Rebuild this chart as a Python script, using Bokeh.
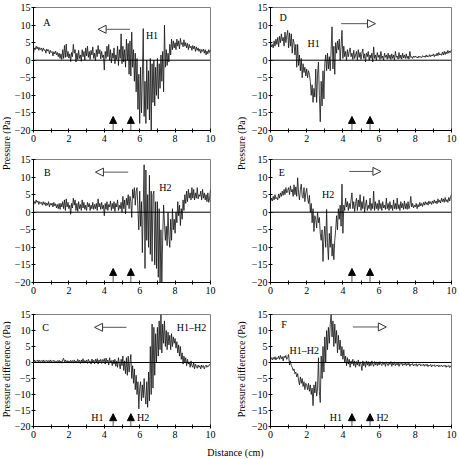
from math import pi

import numpy as np
from bokeh.embed import file_html
from bokeh.layouts import column, row
from bokeh.models import (Arrow, CustomJSTickFormatter, FixedTicker, Label,
                          NormalHead, Range1d, Span)
from bokeh.plotting import figure
from bokeh.resources import INLINE

FONT = "Liberation Serif"

# sampling positions along the tube (cm), 0.05 cm apart
distance = np.round(np.arange(201) * 0.05, 2)

# H1 pressure, wave travelling leftward (panel A)
pressure_h1_leftward = [
    2.0, 3.5, 3.0, 4.0, 3.2, 3.8, 2.8, 3.6, 3.0, 3.4,
    2.5, 3.5, 2.8, 3.0, 2.0, 3.2, 2.6, 3.0, 1.8, 2.8,
    2.2, 2.5, 1.2, 2.4, 1.8, 2.6, 1.5, 2.2, 1.0, 2.0,
    0.5, 1.8, 0.2, 3.0, 0.5, 4.2, 0.8, 4.6, 1.0, 2.5,
    0.6, 1.8, -0.4, 2.2, 1.0, 4.5, 2.0, 3.0, -0.5, 2.0,
    0.2, 2.8, 0.5, 1.5, -0.3, 3.0, 1.0, 2.5, 0.0, 3.5,
    1.2, 4.0, 0.8, 2.5, 0.2, 2.8, 1.5, 3.8, 0.5, 2.0,
    -0.2, 3.0, 1.0, 4.2, 1.8, 3.0, 0.4, 2.5, 0.8, 1.5,
    -2.8, 2.5, 0.5, 4.0, 1.0, 4.5, 0.0, 3.0, -0.8, 2.0,
    0.5, 3.5, -1.0, 1.5, 0.2, 4.0, -1.5, 3.0, 0.5, 7.5,
    -1.0, 4.0, -0.5, 3.0, -2.0, 6.0, 0.0, 4.8, -4.0, 5.5,
    -4.5, 8.0, -2.0, 3.0, -6.0, 2.0, -9.0, 0.5, -14.0, -4.0,
    -18.0, -2.0, -15.0, -5.0, 9.0, -16.0, -6.0, -18.0, 0.0, -14.0,
    -3.0, -17.0, 0.5, -20.0, -1.0, -12.0, 0.0, -13.0, -2.0, -10.0,
    0.5, -11.0, -1.0, -8.0, 1.5, -6.0, 2.5, -9.0, 10.0, -2.0,
    3.0, -1.5, 2.0, -0.5, 4.5, 1.5, 6.0, 3.0, 5.5, 3.5,
    5.0, 3.0, 6.0, 4.0, 5.5, 3.2, 6.2, 4.5, 5.0, 3.8,
    5.8, 4.0, 5.0, 3.5, 4.8, 3.0, 4.5, 3.5, 4.0, 2.8,
    4.2, 3.2, 4.0, 2.5, 3.8, 2.8, 3.5, 2.5, 3.2, 2.0,
    3.0, 2.5, 3.2, 2.0, 3.0, 1.5, 2.6, 1.8, 3.0, 2.2,
    3.0,
]

# H2 pressure, wave travelling leftward (panel B)
pressure_h2_leftward = [
    2.0, 3.0, 2.5, 3.5, 2.8, 3.2, 2.2, 3.0, 2.5, 2.8,
    2.0, 3.0, 2.2, 2.8, 1.8, 2.6, 2.0, 3.0, 1.5, 2.5,
    2.0, 2.6, 1.5, 2.8, 1.8, 2.4, 1.2, 2.2, 1.0, 2.5,
    0.8, 2.5, 1.5, 3.0, 1.0, 3.5, 0.5, 3.8, 1.5, 2.8,
    1.0, 2.0, -0.6, 2.5, 1.2, 4.0, 2.0, 3.5, 0.5, 2.5,
    0.2, 3.0, 1.0, 2.2, 0.5, 3.5, 1.2, 2.8, 0.8, 2.0,
    0.5, 2.8, 1.5, 2.5, 0.5, 2.0, 1.0, 2.8, 0.8, 2.2,
    1.0, 2.5, 0.5, 3.8, 1.5, 2.5, 0.8, 2.8, 1.0, 2.0,
    -1.0, 2.5, 0.8, 3.0, 0.5, 2.2, 1.5, 3.2, 0.5, 2.5,
    1.0, 3.0, 0.2, 2.5, 1.5, 3.5, 0.5, 2.0, 1.0, 2.8,
    0.0, 4.5, 1.0, 3.5, -0.5, 4.0, 2.0, 5.0, 1.0, 4.5,
    3.0, -1.5, 6.5, 4.0, 7.0, 2.0, 6.0, 7.0, 0.5, -5.0,
    6.0, -4.0, 3.0, -11.5, 2.0, 13.5, -16.0, 12.0, -8.0, 5.0,
    -10.0, 10.5, -12.0, 6.0, -14.0, 5.0, 6.0, -15.0, 3.0, -16.0,
    3.0, -18.5, 1.0, -20.0, -5.0, -20.0, -7.0, 2.0, -3.0, -8.0,
    -4.0, -9.5, 0.0, -7.0, -10.0, -2.0, -8.0, 1.0, -5.0, -2.0,
    -6.0, 0.0, -3.0, 3.0, -1.0, 2.0, -3.8, 1.0, -2.0, 3.5,
    0.5, 5.0, 2.5, 6.0, 3.0, 6.5, 4.0, 5.5, 3.5, 7.0,
    4.0, 6.5, 3.5, 5.5, 4.0, 7.0, 3.8, 5.0, 4.5, 6.0,
    3.5, 6.5, 4.0, 5.5, 3.5, 5.0, 3.0, 5.5, 2.8, 4.0,
    6.5,
]

# H1 - H2 pressure difference, wave travelling leftward (panel C)
difference_leftward = [
    0.0, 0.8, 0.2, 0.6, 0.3, 0.8, 0.1, 0.7, 0.3, 0.6,
    0.2, 0.8, 0.0, 0.6, 0.3, 0.7, 0.1, 0.6, 0.2, 0.8,
    0.1, 0.6, 0.3, 0.7, 0.0, 0.5, 0.2, 0.6, 0.1, 0.7,
    0.0, 0.5, -0.2, 0.8, 1.3, 0.2, 0.8, 0.0, 0.6, -0.1,
    0.5, 0.0, 0.7, 0.2, 0.6, -0.2, 0.8, 0.1, 0.5, 0.0,
    1.0, 0.2, 0.7, -0.3, 0.8, 0.1, 1.2, -0.2, 0.6, 0.1,
    0.8, -0.3, 1.0, 0.2, 0.5, -0.5, 1.1, 0.0, 0.7, -0.4,
    1.0, 0.1, 1.2, -0.5, 0.8, 0.2, 1.0, -0.3, 0.9, 0.3,
    1.2, -0.5, 1.4, 0.2, 0.8, -0.8, 1.5, 0.0, 0.6, -1.0,
    0.8, -0.5, 1.0, -1.2, 0.5, -1.5, 1.5, -0.5, -2.0, 1.0,
    -1.0, 2.0, -2.5, 0.5, -3.5, 1.5, -4.0, 2.0, -3.0, 0.0,
    2.5, -5.0, -1.0, -6.5, -2.0, -8.5, -4.0, -10.0, -6.0, -14.5,
    -8.0, -6.0, -12.0, -7.0, -11.0, -5.0, -10.0, -13.0, -6.0, -14.0,
    -3.0, -12.0, 5.0, -10.0, 12.0, -8.0, 11.0, -4.0, 9.0, 0.0,
    11.0, 2.0, 13.0, 4.0, 15.0, 3.0, 12.0, 6.0, 13.0, 5.0,
    10.0, 4.0, 9.5, 5.5, 8.5, 4.0, 9.0, 5.0, 8.0, 6.0,
    7.5, 4.5, 6.5, 3.0, 5.5, 2.0, 5.0, 1.0, 3.0, -0.5,
    2.0, 0.0, 1.5, -1.0, 1.0, -0.5, 0.2, -1.5, 0.5, -1.0,
    -1.5, 0.0, -2.0, -0.5, -1.2, -1.8, -0.8, -1.5, -1.0, -2.0,
    -0.8, -1.5, -1.0, -2.0, -1.2, -0.8, -1.5, -1.0, -1.2, -0.6,
    -0.5,
]

# H1 pressure, wave travelling rightward (panel D)
pressure_h1_rightward = [
    5.0, 3.8, 4.5, 3.5, 5.5, 4.0, 6.0, 4.5, 6.5, 3.8,
    6.8, 5.0, 7.5, 5.5, 6.5, 4.0, 8.0, 5.0, 7.0, 8.5,
    3.5, 7.8, 4.0, 7.5, 2.0, 6.0, 5.0, 1.5, 4.5, -2.0,
    4.5, -1.5, 1.5, -3.0, 0.5, -5.0, -1.0, -3.5, -2.0, -4.5,
    -2.5, -5.0, -3.0, -4.0, -6.0, -10.0, -7.0, -12.0, -8.0, -10.5,
    -2.5, -12.0, -4.0, -0.5, -10.0, -17.5, -6.0, -13.0, -3.0, -11.0,
    -1.0, 1.5, -3.0, 2.0, -2.5, 1.0, -3.0, 3.0, 9.5, -2.5,
    4.0, -4.0, 5.0, 2.0, 5.5, 3.0, 6.0, 0.0, 4.0, 8.5,
    0.5, 4.0, 1.0, 2.5, 0.0, 3.0, 1.0, 2.5, 3.5, 1.0,
    2.0, 0.2, 2.8, 0.5, 1.5, 2.5, 0.0, 3.0, 0.8, 2.2,
    0.2, 2.0, 3.2, 0.5, 1.8, -0.5, 2.0, 1.0, 2.5, 0.0,
    1.5, 0.5, 2.0, -0.5, 3.8, 0.5, 1.5, 0.0, 2.2, 0.8,
    1.5, 0.2, 2.5, 0.5, 1.2, 0.0, 2.0, 0.8, 1.5, 0.3,
    2.0, 0.5, 1.5, 0.2, 1.8, 0.5, 1.5, 0.0, 2.5, 0.8,
    1.2, 0.3, 2.2, 0.5, 1.5, 0.3, 2.0, 0.6, 1.5, 0.5,
    1.8, 0.5, 1.2, 0.3, 2.5, 0.8, 1.0, 0.5, 1.2, 0.8,
    1.2, 0.8, 1.0, 0.6, 1.2, 0.8, 1.0, 0.7, 1.3, 0.9,
    1.2, 0.8, 1.5, 0.9, 1.3, 1.0, 1.6, 1.0, 1.5, 1.2,
    1.8, 1.0, 1.6, 1.2, 2.0, 1.3, 2.2, 1.5, 1.8, 1.4,
    2.3, 1.5, 2.5, 1.6, 2.4, 1.8, 2.8, 2.0, 2.6, 2.2,
    3.0,
]

# H2 pressure, wave travelling rightward (panel E)
pressure_h2_rightward = [
    3.0, 4.0, 3.2, 4.5, 3.5, 5.0, 3.8, 4.2, 3.5, 5.2,
    4.0, 5.5, 4.5, 6.0, 4.8, 6.5, 5.0, 7.0, 5.5, 6.2,
    7.0, 5.0, 7.5, 5.8, 6.5, 4.5, 7.8, 5.0, 7.2, 4.5,
    9.8, 5.5, 3.5, 6.5, 8.0, 4.5, 4.0, 7.0, 3.0, 5.5,
    6.8, 4.0, 2.5, 4.8, 0.0, 2.5, -3.0, 1.0, -5.5, -1.0,
    -2.0, -4.5, 0.0, -3.0, -1.5, -6.0, -8.0, -5.0, -14.0, -7.0,
    -4.0, -10.0, 0.8, -9.0, -13.5, -6.0, -10.0, -4.0, -12.5, -9.0,
    -13.5, -8.0, -5.0, -1.0, -5.0, 1.0, -2.0, 2.0, -4.0, 8.0,
    -6.0, 2.0, 0.5, 4.0, 1.5, 3.0, 0.5, 2.5, 1.0, 3.5,
    5.5, 1.0, 3.0, 0.2, 2.5, 4.0, 0.5, 3.5, 1.5, 5.0,
    0.5, 3.0, 1.0, 4.5, 0.0, 2.0, 3.5, 0.5, 2.0, 1.0,
    4.0, 0.5, 2.5, 1.0, 6.0, 0.5, 3.0, 1.0, 2.5, 0.5,
    3.5, 1.0, 2.5, 0.5, 3.0, 1.2, 2.0, 0.8, 4.0, 1.0,
    2.5, 0.5, 3.0, 1.0, 2.0, 0.5, 3.5, 1.0, 2.5, 0.8,
    4.0, 1.0, 2.2, 0.5, 3.0, 1.2, 2.5, 0.8, 3.2, 1.0,
    2.5, 0.8, 3.0, 1.0, 2.0, 4.5, 1.5, 2.5, 1.2, 2.0,
    1.5, 2.5, 1.0, 2.2, 1.5, 2.8, 1.8, 2.5, 1.6, 2.8,
    2.0, 3.0, 2.2, 2.8, 2.0, 3.2, 2.4, 3.0, 2.2, 3.2,
    2.5, 3.5, 2.6, 3.2, 2.4, 3.8, 2.8, 3.4, 2.6, 4.0,
    3.0, 3.8, 2.8, 4.2, 3.0, 3.6, 2.8, 4.2, 3.2, 4.5,
    5.0,
]

# H1 - H2 pressure difference, wave travelling rightward (panel F)
difference_rightward = [
    1.0, 1.5, 0.8, 1.6, 1.0, 1.8, 0.8, 1.5, 1.2, 2.0,
    1.0, 2.2, 1.2, 1.8, 0.5, 2.0, 1.5, 2.2, 1.0, 1.5,
    2.5, -0.8, 0.5, -1.0, -1.5, -2.5, -2.0, -3.5, -3.0, -4.5,
    -3.5, -5.5, -7.0, -4.5, -6.5, -5.0, -7.5, -6.0, -8.5, -6.5,
    -7.0, -8.5, -6.5, -9.0, -7.0, -10.0, -8.0, -13.5, -7.0, -9.5,
    -6.0, -10.5, -8.0, 1.5, -9.0, -12.5, 2.0, -5.0, 5.0, -3.0,
    8.0, 0.0, 10.0, 4.0, 11.0, 6.0, 12.0, 15.0, 8.0, 13.0,
    5.0, 12.0, 6.0, 10.0, 3.0, 8.5, 4.0, 7.0, 2.0, 5.0,
    1.0, 4.0, 0.0, 2.0, -1.0, 1.5, -0.5, 1.0, -1.5, 0.5,
    -0.5, 1.0, -1.0, 0.5, -1.5, 0.3, -0.8, 0.8, -1.2, 0.2,
    -0.5, -2.5, 0.5, -1.0, 0.2, -1.5, 0.5, -0.8, 0.3, -1.2,
    0.2, -1.0, 0.5, -0.5, -1.2, 0.3, -0.8, 0.2, -1.0, 0.0,
    -0.8, 0.3, -0.5, -1.0, 0.2, -0.6, 0.0, -1.2, 0.2, -0.5,
    -1.0, 0.0, -0.6, 0.3, -1.2, -0.2, -0.8, 0.2, -1.0, -0.3,
    -0.8, 0.0, -1.2, -0.3, -0.6, 0.1, -1.0, -0.4, -0.8, 0.0,
    -1.0, -0.3, -0.8, -0.2, -1.2, -0.5, -0.8, -0.3, -1.1, -0.6,
    -0.9, -0.4, -1.2, -0.6, -0.8, -0.4, -1.1, -0.7, -0.9, -0.5,
    -1.2, -0.6, -1.0, -0.5, -1.3, -0.8, -1.0, -0.6, -1.4, -0.8,
    -1.0, -0.7, -1.3, -0.9, -1.1, -0.8, -1.4, -0.9, -1.2, -0.8,
    -1.3, -1.0, -1.2, -0.8, -1.5, -1.0, -1.3, -0.9, -1.6, -1.1,
    -1.0,
]

x_ticks = [0, 2, 4, 6, 8, 10]
x_minor_ticks = [1, 3, 5, 7, 9]
y_ticks = [-20, -15, -10, -5, 0, 5, 10, 15]

# positions of the two pressure ports H1 and H2 (cm)
sensor_x = [4.5, 5.5]

minus_formatter = CustomJSTickFormatter(
    code="return tick < 0 ? '\u2212' + Math.abs(tick) : String(tick);")


def add_text(p, x, y, text, align="left"):
    p.add_layout(Label(x=x, y=y, text=text, text_align=align,
                       text_baseline="middle", text_font=FONT,
                       text_font_size="10px", text_color="black"))


def make_panel(values, width, height, left, right, top, bottom,
               letter, letter_pos, tags, heading, port_tags=False):
    p = figure(width=width, height=height,
               x_range=Range1d(0, 10), y_range=Range1d(-20, 15),
               min_border_left=left, min_border_right=right,
               min_border_top=top, min_border_bottom=bottom,
               toolbar_location=None, output_backend="svg")
    p.grid.visible = False
    p.background_fill_color = "white"
    p.border_fill_color = "white"
    p.outline_line_color = "#808080"
    p.outline_line_width = 1

    p.xaxis.ticker = FixedTicker(ticks=x_ticks, minor_ticks=x_minor_ticks)
    p.yaxis.ticker = FixedTicker(ticks=y_ticks)
    p.yaxis.formatter = minus_formatter
    for ax in p.axis:
        ax.axis_line_color = "black"
        ax.major_tick_line_color = "black"
        ax.minor_tick_line_color = "black"
        ax.major_tick_in = 2
        ax.major_tick_out = 2
        ax.minor_tick_in = 2
        ax.minor_tick_out = 2
        ax.major_label_standoff = 2
        ax.major_label_text_font = FONT
        ax.major_label_text_font_size = "10px"
        ax.major_label_text_color = "black"
    p.yaxis.major_label_standoff = 1

    p.add_layout(Span(location=0, dimension="width",
                      line_color="black", line_width=1))
    p.line(distance, values, line_color="#111111", line_width=0.8)

    # direction of wave travel
    x0, x1, yh = heading
    p.add_layout(Arrow(end=NormalHead(size=8, fill_color="white",
                                      line_color="#333333", line_width=1),
                       x_start=x0, y_start=yh, x_end=x1, y_end=yh,
                       line_color="#555555", line_width=1))

    # pressure ports
    for sx in sensor_x:
        p.add_layout(Arrow(end=NormalHead(size=7, fill_color="black",
                                          line_color="black", line_width=1),
                           x_start=sx, y_start=-20, x_end=sx, y_end=-16.0,
                           line_color="#555555", line_width=1))
    if port_tags:
        add_text(p, sensor_x[0] - 0.55, -17.2, "H1", align="right")
        add_text(p, sensor_x[1] + 0.35, -17.2, "H2", align="left")

    add_text(p, letter_pos[0], letter_pos[1], letter)
    for text, tx, ty in tags:
        add_text(p, tx, ty, text)
    return p


def strip(width, height, text, cx, cy, angle):
    s = figure(width=width, height=height,
               x_range=Range1d(0, width), y_range=Range1d(0, height),
               min_border=0, toolbar_location=None, output_backend="svg",
               x_axis_type=None, y_axis_type=None)
    s.outline_line_color = None
    s.background_fill_color = "white"
    s.border_fill_color = "white"
    s.add_layout(Label(x=cx, y=cy, text=text, angle=angle,
                       text_align="center", text_baseline="middle",
                       text_font=FONT, text_font_size="10px",
                       text_color="black"))
    return s


LW, RW = 219, 211

panel_a = make_panel(pressure_h1_leftward, LW, 150, 19, 20, 7, 20,
                     "A", (0.55, 10.8), [("H1", 6.35, 6.9)], (5.45, 3.65, 8.8))
panel_b = make_panel(pressure_h2_leftward, LW, 150, 19, 20, 9, 18,
                     "B", (0.6, 11.2), [("H2", 7.1, 6.9)], (5.35, 3.5, 11.4))
panel_c = make_panel(difference_leftward, LW, 143, 19, 20, 14, 17,
                     "C", (0.5, 11.0), [("H1\u2013H2", 8.1, 11.0)],
                     (5.25, 3.45, 11.0), port_tags=True)
panel_d = make_panel(pressure_h1_rightward, RW, 150, 22, 8, 7, 20,
                     "D", (0.5, 12.2), [("H1", 2.05, 4.8)], (3.9, 5.8, 10.4))
panel_e = make_panel(pressure_h2_rightward, RW, 150, 22, 8, 9, 18,
                     "E", (0.45, 11.4), [("H2", 2.85, 5.1)], (4.35, 6.1, 11.6))
panel_f = make_panel(difference_rightward, RW, 143, 22, 8, 14, 17,
                     "F", (0.6, 11.8), [("H1\u2013H2", 1.05, 3.9)],
                     (4.55, 6.4, 11.1), port_tags=True)

label_l_top = strip(11, 300, "Pressure (Pa)", 6, 157, pi / 2)
label_r_top = strip(18, 300, "Pressure (Pa)", 11, 157, pi / 2)
label_l_bot = strip(11, 143, "Pressure difference (Pa)", 6, 73, pi / 2)
label_r_bot = strip(18, 143, "Pressure difference (Pa)", 11, 73, pi / 2)
label_x = strip(459, 16, "Distance (cm)", 235, 7, 0)

top_block = row(label_l_top, column(panel_a, panel_b),
                label_r_top, column(panel_d, panel_e))
bottom_block = row(label_l_bot, panel_c, label_r_bot, panel_f)
page = column(top_block, bottom_block, label_x)

with open("out.html", "w") as fh:
    fh.write(file_html(page, INLINE))
